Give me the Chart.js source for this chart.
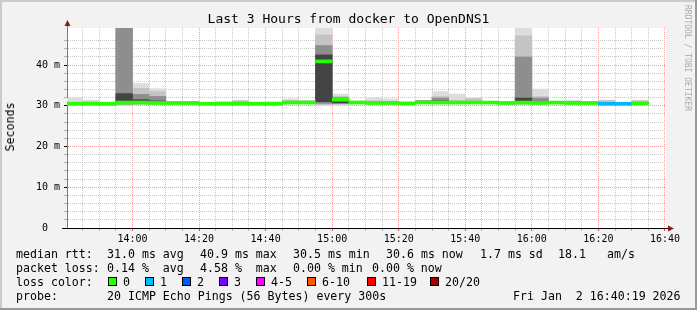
<!DOCTYPE html>
<html>
<head>
<meta charset="utf-8">
<title>Last 3 Hours from docker to OpenDNS1</title>
<script src="https://cdn.jsdelivr.net/npm/chart.js@4.4.1/dist/chart.umd.min.js"></script>
<style>
    body { margin: 0; background: #f2f2f2; }
    #wrap { position: relative; width: 697px; height: 310px; font-family: 'DejaVu Sans Mono', monospace; color: #000; }
    #wrap canvas { position: absolute; left: 0; top: 0; }
    .txt { position: absolute; white-space: pre; font-size: 11.6px; line-height: 14px; }
    .box { position: absolute; width: 7px; height: 7px; border: 1px solid #000; }
    #title { position: absolute; left: 0; top: 11px; width: 697px; text-align: center; font-size: 13px; line-height: 16px; white-space: pre; }
    #ytitle { position: absolute; left: 10px; top: 127px; transform: translate(-50%, -50%) rotate(-90deg); font-size: 11.6px; white-space: pre; }
    #mark { position: absolute; left: 683px; top: 5px; writing-mode: vertical-rl; font-size: 8px; line-height: 8px; color: #aaaaaa; white-space: pre; }
</style>
</head>
<body>
<div id="wrap">
    <canvas id="myChart" width="697" height="310"></canvas>
    <div id="title">Last 3 Hours from docker to OpenDNS1</div>
    <div id="ytitle">Seconds</div>
    <div id="mark">RRDTOOL / TOBI OETIKER</div>
    <div id="legend"></div>
</div>
<script>
// time range of the graph and the 5 minute bins (start of each bin)
var startTime = '13:40:19';
var endTime = '16:40:19';
var binStart = ['13:40', '13:45', '13:50', '13:55', '14:00', '14:05', '14:10', '14:15', '14:20', '14:25',
    '14:30', '14:35', '14:40', '14:45', '14:50', '14:55', '15:00', '15:05', '15:10', '15:15',
    '15:20', '15:25', '15:30', '15:35', '15:40', '15:45', '15:50', '15:55', '16:00', '16:05',
    '16:10', '16:15', '16:20', '16:25', '16:30'];

var xTickLabels = ['14:00', '14:20', '14:40', '15:00', '15:20', '15:40', '16:00', '16:20', '16:40'];
var yTickValues = [0, 10, 20, 30, 40];
var yTickLabels = ['0  ', '10 m', '20 m', '30 m', '40 m'];
var yMax = 49.1;

// median rtt (ms) and lost pings per bin
var median = [30.5, 30.5, 30.5, 30.8, 30.8, 30.7, 30.7, 30.7, 30.5, 30.5,
    30.5, 30.5, 30.5, 30.8, 30.8, 40.9, 31.5, 30.8, 30.7, 30.7,
    30.6, 30.8, 30.8, 30.8, 30.8, 30.8, 30.7, 30.8, 30.7, 30.8,
    30.7, 30.7, 30.5, 30.5, 30.6];
var loss = [0, 0, 0, 0, 0, 0, 0, 0, 0, 0,
    0, 0, 0, 0, 0, 0, 0, 0, 0, 0,
    0, 0, 0, 0, 0, 0, 0, 0, 0, 0,
    0, 0, 1, 1, 0];

// smoke: spread of the 20 pings per bin (ms)
var pingMin = [30.15, 30.15, 30.0, 30.0, 30.3, 30.35, 30.35, 30.35, 30.15, 30.15,
    30.15, 30.15, 30.15, 30.45, 30.45, 30.1, 30.2, 30.45, 30.35, 30.35,
    30.25, 30.45, 30.45, 30.45, 30.45, 30.45, 30.35, 30.3, 30.35, 30.45,
    30.35, 30.35, 30.15, 30.15, 30.25];
var ping10 = [30.25, 30.25, 30.2, 30.2, 30.4, 30.45, 30.45, 30.45, 30.25, 30.25,
    30.25, 30.25, 30.25, 30.55, 30.55, 30.3, 30.4, 30.55, 30.45, 30.45,
    30.35, 30.55, 30.55, 30.55, 30.55, 30.55, 30.45, 30.4, 30.45, 30.55,
    30.45, 30.45, 30.25, 30.25, 30.35];
var ping25 = [30.35, 30.35, 30.3, 30.4, 30.5, 30.55, 30.55, 30.55, 30.35, 30.35,
    30.35, 30.35, 30.35, 30.65, 30.65, 30.6, 30.6, 30.65, 30.55, 30.55,
    30.45, 30.65, 30.65, 30.65, 30.65, 30.65, 30.55, 30.6, 30.55, 30.65,
    30.55, 30.55, 30.35, 30.35, 30.45];
var ping40 = [30.45, 30.45, 30.4, 30.6, 30.7, 30.65, 30.65, 30.65, 30.45, 30.45,
    30.45, 30.45, 30.45, 30.75, 30.75, 31.0, 30.7, 30.75, 30.65, 30.65,
    30.55, 30.75, 30.75, 30.75, 30.75, 30.75, 30.65, 30.7, 30.65, 30.75,
    30.65, 30.65, 30.45, 30.45, 30.55];
var ping60 = [30.55, 30.6, 30.55, 33.0, 31.5, 31.2, 30.75, 30.75, 30.55, 30.6,
    30.7, 30.55, 30.6, 30.9, 30.9, 42.5, 31.6, 30.9, 30.8, 30.8,
    30.65, 31.0, 31.2, 30.9, 30.9, 30.9, 30.75, 31.9, 31.0, 30.85,
    30.8, 30.75, 30.6, 30.55, 30.7];
var ping75 = [30.7, 30.75, 30.6, 60, 32.8, 32.3, 30.8, 30.8, 30.6, 30.7,
    30.9, 30.65, 30.7, 31.0, 31.0, 44.8, 32.0, 31.0, 30.95, 30.9,
    30.7, 31.25, 31.9, 31.0, 31.1, 30.95, 30.8, 42.0, 31.9, 30.9,
    30.9, 30.8, 30.8, 30.6, 30.8];
var ping90 = [30.9, 31.0, 30.7, 60, 34.3, 33.5, 30.9, 30.9, 30.7, 30.85,
    31.2, 30.75, 30.85, 31.3, 31.15, 47.4, 32.3, 31.05, 31.2, 31.1,
    30.8, 31.3, 32.3, 31.3, 31.8, 31.0, 30.85, 47.2, 32.3, 30.95,
    31.1, 30.85, 31.3, 30.7, 31.2];
var pingMax = [31.9, 31.4, 30.85, 60, 35.5, 34.2, 31.0, 31.0, 30.8, 31.1,
    31.4, 30.9, 31.0, 31.7, 31.4, 60, 32.9, 31.2, 31.9, 31.7,
    30.9, 31.35, 33.5, 32.9, 31.9, 31.1, 30.9, 60, 34.1, 31.0,
    31.4, 30.9, 31.4, 30.8, 31.4];

var lossLabels = ['0', '1', '2', '3', '4-5', '6-10', '11-19', '20/20'];
var lossColors = ['#26ff00', '#00b8ff', '#0059ff', '#7e00ff', '#ff00ff', '#ff5500', '#ff0000', '#a10000'];

function toMin(s) {
    var p = s.split(':');
    return p[0] * 60 + p[1] * 1 + (p[2] ? p[2] / 60 : 0);
}

function lossClass(n) {
    if (n <= 3) return n;
    if (n <= 5) return 4;
    if (n <= 10) return 5;
    if (n <= 19) return 6;
    return 7;
}

var xTickValues = xTickLabels.map(toMin);

// nested smoke bands, outer ones lighter
var bands = [
    [pingMin, pingMax, '#dddddd'],
    [ping10, ping90, '#c4c4c4'],
    [ping25, ping75, '#8e8e8e'],
    [ping40, ping60, '#444444']
];

var datasets = bands.map(function (b, i) {
    return {
        data: binStart.map(function (t, j) {
            return {x: toMin(t) + 2.5, y: [b[0][j], b[1][j]]};
        }),
        backgroundColor: b[2],
        order: 10 - i
    };
});

// median line, 3px thick, coloured by loss
datasets.push({
    data: binStart.map(function (t, j) {
        return {x: toMin(t) + 2.5, y: [median[j] - 0.37, median[j] + 0.37]};
    }),
    backgroundColor: function (ctx) {
        return lossColors[lossClass(loss[ctx.dataIndex])];
    },
    order: 0
});

datasets.forEach(function (d) {
    d.grouped = false;
    d.barPercentage = 1;
    d.categoryPercentage = 1;
    d.borderWidth = 0;
});

var framePlugin = {
    id: 'frame',
    beforeDraw: function (chart) {
        var c = chart.ctx, a = chart.chartArea, w = chart.width, h = chart.height;
        c.save();
        c.fillStyle = '#f2f2f2';
        c.fillRect(0, 0, w, h);
        c.fillStyle = '#ffffff';
        c.fillRect(a.left, a.top, a.right - a.left, a.bottom - a.top);
        c.fillStyle = '#cbcbcb';
        c.fillRect(0, 0, w, 2);
        c.fillRect(0, 0, 2, h);
        c.fillStyle = '#999999';
        c.fillRect(0, h - 2, w, 2);
        c.fillRect(w - 2, 0, 2, h);
        c.restore();
    },
    afterDraw: function (chart) {
        var c = chart.ctx, a = chart.chartArea;
        var x0 = Math.round(a.left) + 0.5, y0 = Math.round(a.bottom) + 0.5;
        c.save();
        c.lineWidth = 1;
        c.strokeStyle = '#7a7a7a';
        c.beginPath();
        c.moveTo(x0, a.top);
        c.lineTo(x0, a.top - 4);
        c.stroke();
        c.strokeStyle = '#000';
        c.beginPath();
        c.moveTo(a.left - 5, y0);
        c.lineTo(a.right + 3, y0);
        c.stroke();
        c.fillStyle = '#8e1b1b';
        c.beginPath();
        c.moveTo(x0, a.top - 8);
        c.lineTo(x0 - 3, a.top - 2);
        c.lineTo(x0 + 3, a.top - 2);
        c.closePath();
        c.fill();
        c.beginPath();
        c.moveTo(a.right + 8, y0);
        c.lineTo(a.right + 2, y0 - 3);
        c.lineTo(a.right + 2, y0 + 3);
        c.closePath();
        c.fill();
        c.restore();
    }
};

var tickFont = {family: 'DejaVu Sans Mono', size: 10};

var ctx = document.getElementById('myChart');
var myChart = new Chart(ctx, {
    type: 'bar',
    data: {datasets: datasets},
    plugins: [framePlugin],
    options: {
        responsive: false,
        animation: false,
        devicePixelRatio: 1,
        layout: {padding: {top: 28, right: 31, left: 0, bottom: 0}},
        plugins: {legend: {display: false}, tooltip: {enabled: false}, title: {display: false}},
        scales: {
            x: {
                type: 'linear',
                offset: false,
                min: toMin(startTime),
                max: toMin(endTime),
                afterBuildTicks: function (scale) {
                    var ticks = [];
                    for (var m = Math.ceil(scale.min / 5) * 5; m <= scale.max; m += 5) {
                        ticks.push({value: m});
                    }
                    scale.ticks = ticks;
                },
                afterFit: function (scale) {
                    scale.height = 82;
                },
                ticks: {
                    autoSkip: false,
                    maxRotation: 0,
                    padding: 2,
                    font: tickFont,
                    color: '#000',
                    callback: function (v) {
                        var i = xTickValues.indexOf(v);
                        return i >= 0 ? xTickLabels[i] : '';
                    }
                },
                grid: {
                    offset: false,
                    color: function (c) {
                        return c.tick && xTickValues.indexOf(c.tick.value) >= 0 ? '#f2a0a0' : '#c8c8c8';
                    },
                    tickColor: function (c) {
                        return c.tick && xTickValues.indexOf(c.tick.value) >= 0 ? '#e05050' : '#b0b0b0';
                    },
                    tickLength: 3,
                    tickBorderDash: []
                },
                border: {color: '#000', width: 1, dash: [1, 1]}
            },
            y: {
                min: 0,
                max: yMax,
                afterBuildTicks: function (scale) {
                    scale.ticks = scale.ticks.filter(function (t) {
                        return Math.abs(t.value / 2 - Math.round(t.value / 2)) < 1e-6;
                    });
                },
                afterFit: function (scale) {
                    scale.width = 67;
                },
                ticks: {
                    stepSize: 2,
                    maxTicksLimit: 40,
                    autoSkip: false,
                    padding: 4,
                    font: tickFont,
                    color: '#000',
                    callback: function (v) {
                        var i = yTickValues.indexOf(v);
                        return i >= 0 ? yTickLabels[i] : '';
                    }
                },
                grid: {
                    color: function (c) {
                        return c.tick && yTickValues.indexOf(c.tick.value) >= 0 ? '#f2a0a0' : '#c8c8c8';
                    },
                    tickColor: function (c) {
                        return c.tick && yTickValues.indexOf(c.tick.value) >= 0 ? '#000' : '#b0b0b0';
                    },
                    tickLength: 3,
                    tickBorderDash: []
                },
                border: {color: '#7a7a7a', width: 1, dash: [1, 1]}
            }
        }
    }
});

// text legend under the graph
var legendRows = [
    [254, [['median rtt:', 16], ['31.0 ms avg', 107], ['40.9 ms max', 200], ['30.5 ms min', 293],
        ['30.6 ms now', 386], ['1.7 ms sd', 480], ['18.1', 558], ['am/s', 607]]],
    [268, [['packet loss:', 16], ['0.14 %  avg', 107], ['4.58 %  max', 200], ['0.00 % min', 293], ['0.00 % now', 372]]],
    [282, [['loss color:', 16]]],
    [296, [['probe:', 16], ['20 ICMP Echo Pings (56 Bytes) every 300s', 107], ['Fri Jan  2 16:40:19 2026', 513]]]
];
var boxLeft = [108, 145, 182, 219, 256, 307, 367, 430];

var html = '';
legendRows.forEach(function (row) {
    row[1].forEach(function (t) {
        html += '<div class="txt" style="left:' + t[1] + 'px;top:' + (row[0] - 7) + 'px">' + t[0] + '</div>';
    });
});
lossLabels.forEach(function (label, i) {
    html += '<div class="box" style="left:' + boxLeft[i] + 'px;top:277px;background:' + lossColors[i] + '"></div>';
    html += '<div class="txt" style="left:' + (boxLeft[i] + 15) + 'px;top:275px">' + label + '</div>';
});
document.getElementById('legend').innerHTML = html;
</script>
</body>
</html>
